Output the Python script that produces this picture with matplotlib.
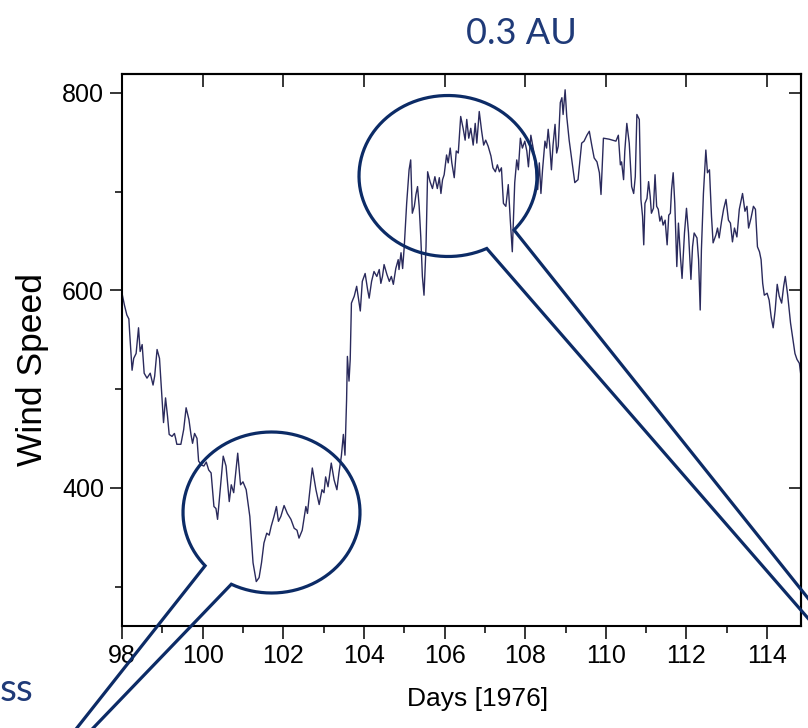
import numpy as np
import matplotlib.pyplot as plt
from matplotlib.ticker import MultipleLocator, NullLocator

# solar wind speed, day of year 1976
day = [98.00, 98.06, 98.12, 98.17, 98.19, 98.25, 98.29, 98.35, 98.41, 98.45,
       98.50, 98.55, 98.62, 98.70, 98.77, 98.81, 98.87, 98.93, 98.98, 99.03,
       99.08, 99.13, 99.17, 99.24, 99.30, 99.33, 99.36, 99.46, 99.53, 99.59,
       99.66, 99.71, 99.75, 99.80, 99.86, 99.90, 99.97, 100.03, 100.09, 100.15,
       100.21, 100.28, 100.33, 100.37, 100.43, 100.51, 100.58, 100.66, 100.71, 100.77,
       100.87, 100.94, 101.00, 101.08, 101.17, 101.25, 101.33, 101.40, 101.46, 101.52,
       101.59, 101.65, 101.70, 101.77, 101.83, 101.88, 101.94, 102.02, 102.10, 102.19,
       102.27, 102.34, 102.39, 102.47, 102.56, 102.60, 102.64, 102.72, 102.81, 102.89,
       102.96, 103.01, 103.05, 103.11, 103.19, 103.26, 103.33, 103.38, 103.44, 103.49,
       103.53, 103.57, 103.59, 103.63, 103.66, 103.69, 103.76, 103.82, 103.91, 103.96,
       104.03, 104.09, 104.13, 104.19, 104.25, 104.32, 104.38, 104.42, 104.46, 104.50,
       104.57, 104.63, 104.68, 104.73, 104.79, 104.85, 104.87, 104.92, 104.96, 105.00,
       105.06, 105.12, 105.16, 105.20, 105.25, 105.29, 105.33, 105.37, 105.41, 105.45,
       105.49, 105.54, 105.58, 105.64, 105.70, 105.76, 105.82, 105.87, 105.91, 105.95,
       105.99, 106.05, 106.09, 106.14, 106.18, 106.24, 106.29, 106.34, 106.40, 106.46,
       106.51, 106.55, 106.60, 106.65, 106.71, 106.76, 106.80, 106.86, 106.92, 106.97,
       107.02, 107.08, 107.15, 107.20, 107.26, 107.31, 107.36, 107.41, 107.46, 107.52,
       107.58, 107.63, 107.68, 107.74, 107.79, 107.83, 107.88, 107.93, 107.99, 108.04,
       108.08, 108.14, 108.21, 108.31, 108.35, 108.39, 108.43, 108.49, 108.53, 108.57,
       108.61, 108.65, 108.69, 108.74, 108.78, 108.82, 108.87, 108.91, 108.94, 108.99,
       109.03, 109.09, 109.17, 109.23, 109.31, 109.40, 109.46, 109.53, 109.59, 109.65,
       109.71, 109.78, 109.84, 109.88, 109.94, 110.08, 110.25, 110.31, 110.36, 110.39,
       110.44, 110.47, 110.52, 110.58, 110.64, 110.69, 110.73, 110.77, 110.83, 110.87,
       110.91, 110.94, 110.97, 111.02, 111.06, 111.10, 111.13, 111.18, 111.22, 111.26,
       111.30, 111.34, 111.38, 111.42, 111.47, 111.52, 111.56, 111.60, 111.63, 111.67,
       111.71, 111.76, 111.80, 111.85, 111.89, 111.95, 112.00, 112.05, 112.11, 112.15,
       112.19, 112.26, 112.30, 112.34, 112.37, 112.42, 112.48, 112.52, 112.57, 112.62,
       112.66, 112.73, 112.77, 112.81, 112.87, 112.92, 112.98, 113.04, 113.09, 113.14,
       113.19, 113.25, 113.31, 113.35, 113.39, 113.45, 113.50, 113.54, 113.60, 113.66,
       113.71, 113.76, 113.81, 113.85, 113.89, 113.93, 114.00, 114.05, 114.10, 114.15,
       114.20, 114.25, 114.30, 114.36, 114.41, 114.45, 114.51, 114.58, 114.63, 114.69,
       114.74, 114.80, 114.84]
speed = [597, 585, 575, 571, 557, 519, 531, 536, 562, 538,
         545, 516, 511, 516, 504, 513, 540, 531, 499, 466,
         491, 472, 454, 452, 455, 450, 444, 444, 459, 481,
         469, 454, 445, 455, 450, 427, 423, 422, 426, 418,
         415, 381, 379, 368, 395, 432, 422, 386, 403, 395,
         435, 403, 406, 398, 371, 324, 305, 309, 324, 344,
         354, 352, 361, 371, 381, 366, 371, 382, 374, 368,
         359, 357, 349, 357, 381, 374, 390, 420, 398, 383,
         398, 395, 411, 401, 425, 408, 398, 415, 432, 454,
         433, 489, 533, 508, 530, 587, 594, 604, 579, 609,
         617, 601, 592, 609, 619, 614, 621, 607, 614, 626,
         616, 609, 614, 606, 622, 631, 621, 638, 622, 644,
         688, 722, 732, 678, 685, 697, 705, 685, 654, 614,
         595, 644, 720, 710, 703, 715, 703, 714, 698, 712,
         717, 737, 729, 744, 729, 714, 741, 739, 776, 764,
         752, 773, 754, 764, 747, 769, 749, 781, 761, 747,
         752, 746, 736, 724, 720, 727, 720, 724, 688, 685,
         707, 671, 639, 709, 732, 722, 754, 744, 751, 741,
         725, 757, 741, 702, 729, 698, 722, 751, 744, 763,
         746, 722, 747, 768, 739, 746, 790, 795, 778, 803,
         776, 752, 727, 709, 712, 749, 751, 757, 761, 747,
         734, 730, 719, 697, 754, 753, 751, 757, 727, 730,
         712, 741, 769, 749, 705, 698, 715, 778, 773, 692,
         675, 646, 688, 693, 710, 695, 678, 683, 717, 685,
         682, 670, 675, 666, 671, 646, 676, 678, 702, 719,
         688, 624, 668, 634, 612, 658, 683, 658, 611, 644,
         658, 653, 631, 580, 641, 698, 742, 719, 722, 675,
         648, 656, 663, 653, 670, 682, 692, 671, 668, 649,
         663, 654, 682, 690, 698, 680, 685, 663, 673, 685,
         682, 644, 639, 631, 607, 595, 597, 590, 573, 562,
         580, 606, 594, 587, 604, 614, 595, 567, 553, 536,
         530, 526, 513]

x_ticks = [98, 100, 102, 104, 106, 108, 110, 112, 114]
y_ticks = [400, 600, 800]
title = '0.3 AU'
x_label = 'Days [1976]'
y_label = 'Wind Speed'

plt.rcParams['font.family'] = ['Liberation Sans', 'DejaVu Sans']
navy = '#0c2b66'
slide_font = ['Lato', 'DejaVu Sans']

W, H = 808, 728
fig = plt.figure(figsize=(W / 100, H / 100), dpi=100)
ax = fig.add_axes([122 / W, 102 / H, 679 / W, 552 / H])
ax.plot(day, speed, color='#2a2a5c', lw=1.0)
ax.set_xlim(98, 114.84)
ax.set_ylim(260, 819)
ax.set_xticks(x_ticks)
ax.set_yticks(y_ticks)
ax.xaxis.set_minor_locator(MultipleLocator(1))
ax.yaxis.set_minor_locator(MultipleLocator(100))
ax.tick_params(which='both', direction='out', width=1.1, labelsize=18, pad=4)
ax.tick_params(which='major', length=9)
ax.tick_params(which='minor', length=5)
for s in ax.spines.values():
    s.set_linewidth(1.5)

# inward ticks on top and right, majors only
top = ax.secondary_xaxis('top')
top.set_xticks(x_ticks)
top.tick_params(direction='in', length=9, width=1.1, labeltop=False)
top.xaxis.set_minor_locator(NullLocator())
top.spines['top'].set_linewidth(1.5)
right = ax.secondary_yaxis('right')
right.set_yticks(y_ticks)
right.tick_params(direction='in', length=9, width=1.1, labelright=False)
right.yaxis.set_minor_locator(NullLocator())
right.spines['right'].set_linewidth(1.5)

ax.set_xlabel(x_label, fontsize=19)
ax.xaxis.set_label_coords(0.523, -0.11)
ax.set_ylabel(y_label, fontsize=25.5)
ax.yaxis.set_label_coords(-0.107, 0.465)

fig.text(521 / W, 1 - 33 / H, title, ha='center', va='center',
         fontsize=26, color='#1f3a78', family=slide_font)
fig.text(0, 1 - 690 / H, 'ss', ha='left', va='center',
         fontsize=28, color='#1f3a78', family=slide_font)

# callout bubbles drawn in pixel space over the whole slide
ov = fig.add_axes([0, 0, 1, 1], zorder=5)
ov.set_xlim(0, W)
ov.set_ylim(H, 0)
ov.axis('off')


def callout(cx, cy, rx, ry, t0, t1, tip):
    t = np.radians(np.linspace(t0, t1, 300))
    xs = np.concatenate([[tip[0]], cx + rx * np.cos(t), [tip[0]]])
    ys = np.concatenate([[tip[1]], cy + ry * np.sin(t), [tip[1]]])
    ov.plot(xs, ys, color=navy, lw=2.3, solid_joinstyle='miter')


callout(448, 176, 89, 80.5, 64.2, 402.1, (1005, 845))
callout(271.5, 512.5, 88.5, 80.5, 117, -221.4, (1, 824))

fig.savefig('out.png', dpi=100)
